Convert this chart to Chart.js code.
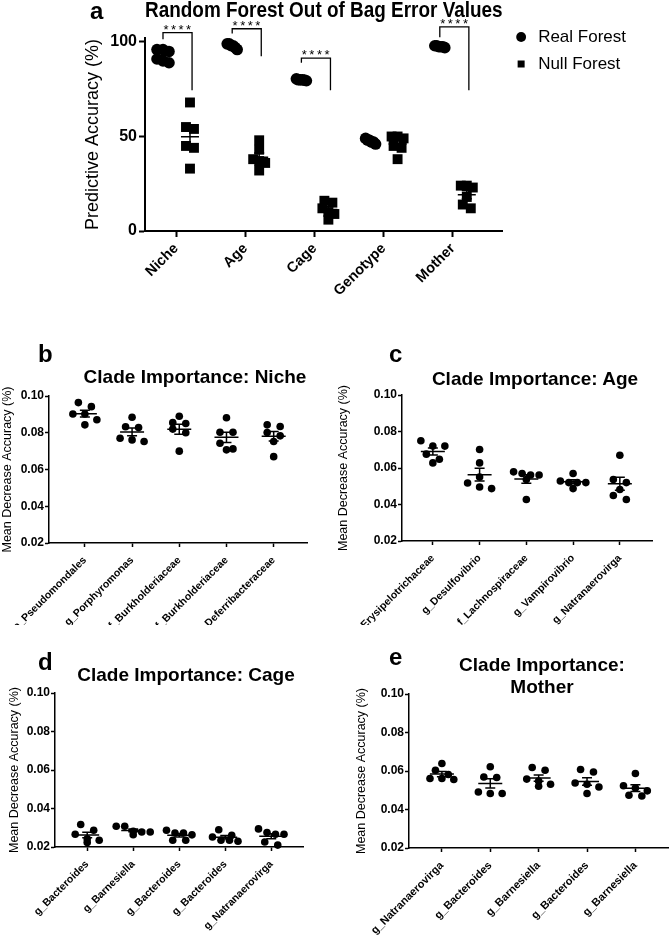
<!DOCTYPE html>
<html lang="en">
<head>
<meta charset="utf-8">
<title>Random Forest Out of Bag Error Values</title>
<script src="https://cdn.jsdelivr.net/npm/chart.js"></script>
<style>
  body { margin: 0; background: #fff; overflow: hidden; }
  #page { position: relative; width: 672px; height: 938px; font-family: "Liberation Sans", Arial, sans-serif; color: #000; }
  .panel { position: absolute; }
  .tag { position: absolute; font-size: 24px; line-height: 26px; font-weight: bold; }
  .head { position: absolute; width: 300px; text-align: center; font-size: 19px; line-height: 22px; font-weight: bold; }
</style>
</head>
<body>
<div id="page">
  <div class="panel" style="left:0;top:0;width:672px;height:305px"><canvas id="forestChart"></canvas></div>
  <div class="panel" style="left:0;top:315px;width:336px;height:310px"><canvas id="nicheChart"></canvas></div>
  <div class="panel" style="left:336px;top:315px;width:336px;height:310px"><canvas id="ageChart"></canvas></div>
  <div class="panel" style="left:0;top:640px;width:336px;height:298px"><canvas id="cageChart"></canvas></div>
  <div class="panel" style="left:336px;top:640px;width:336px;height:298px"><canvas id="motherChart"></canvas></div>

  <div class="tag" style="left:90px;top:-2px">a</div>
  <div class="tag" style="left:38px;top:341px">b</div>
  <div class="tag" style="left:389px;top:341px">c</div>
  <div class="tag" style="left:38px;top:649px">d</div>
  <div class="tag" style="left:389px;top:644px">e</div>

  <div class="head" style="left:45px;top:366px">Clade Importance: Niche</div>
  <div class="head" style="left:385px;top:368px">Clade Importance: Age</div>
  <div class="head" style="left:36px;top:664px">Clade Importance: Cage</div>
  <div class="head" style="left:392px;top:654px">Clade Importance:<br>Mother</div>
</div>

<script>
    // panel a: predictive accuracy (%) of each forest, 6 runs per variable
    var forestCats = ['Niche', 'Age', 'Cage', 'Genotype', 'Mother'];
    var realForest = [
        [96, 96, 95, 90, 89, 91],
        [99, 98, 97, 99, 96, 98],
        [80, 80, 79.5, 80.5, 80, 79.8],
        [49, 48, 47, 46, 48, 47],
        [98, 97.5, 97.5, 98, 97, 97.5]
    ];
    var nullForest = [
        [68, 55, 54, 44, 45, 33],
        [48, 43, 38, 36, 37, 32],
        [16, 15, 10, 9, 6, 12],
        [50, 50, 44, 45, 38, 49],
        [24, 24, 23, 18, 12, 14]
    ];
    // significance brackets (category index, heights in % units)
    var sigCats = [0, 1, 2, 4];
    var sigLabels = ['****', '****', '****', '****'];
    var sigTop = [105, 107, 91.5, 108];
    var sigLeftEnd = [101.5, 104.5, 89, 102.5];
    var sigRightEnd = [74.5, 92.5, 74.5, 74.5];

    // panels b-e: mean decrease accuracy per clade
    var nicheClades = ['o_Pseudomondales', 'g_Porphyromonas', 'f_Burkholderiaceae', 'f_Burkholderiaceae', 'f_Deferribacteraceae'];
    var nicheMDA = [
        [0.0964, 0.0942, 0.0902, 0.0902, 0.0871, 0.0843],
        [0.0884, 0.0833, 0.0828, 0.0770, 0.0761, 0.0752],
        [0.0890, 0.0855, 0.0850, 0.0820, 0.0800, 0.0700],
        [0.0882, 0.0803, 0.0803, 0.0743, 0.0712, 0.0707],
        [0.0843, 0.0834, 0.0801, 0.0783, 0.0752, 0.0670]
    ];
    var ageClades = ['f_Erysipelotrichaceae', 'g_Desulfovibrio', 'f_Lachnospiraceae', 'g_Vampirovibrio', 'g_Natranaerovirga'];
    var ageMDA = [
        [0.0749, 0.0720, 0.0720, 0.0676, 0.0648, 0.0628],
        [0.0701, 0.0628, 0.0551, 0.0518, 0.0496, 0.0487],
        [0.0579, 0.0570, 0.0562, 0.0562, 0.0537, 0.0427],
        [0.0570, 0.0529, 0.0520, 0.0520, 0.0520, 0.0487],
        [0.0670, 0.0537, 0.0520, 0.0482, 0.0449, 0.0427]
    ];
    var cageClades = ['g_Bacteroides', 'g_Barnesiella', 'g_Bacteroides', 'g_Bacteroides', 'g_Natranaerovirga'];
    var cageMDA = [
        [0.0317, 0.0287, 0.0266, 0.0243, 0.0235, 0.0224],
        [0.0308, 0.0308, 0.0282, 0.0278, 0.0278, 0.0264],
        [0.0287, 0.0273, 0.0273, 0.0263, 0.0235, 0.0235],
        [0.0290, 0.0261, 0.0252, 0.0235, 0.0235, 0.0230],
        [0.0294, 0.0275, 0.0266, 0.0266, 0.0226, 0.0210]
    ];
    var motherClades = ['g_Natranaerovirga', 'g_Bacteroides', 'g_Barnesiella', 'g_Bacteroides', 'g_Barnesiella'];
    var motherMDA = [
        [0.0639, 0.0604, 0.0582, 0.0561, 0.0561, 0.0556],
        [0.0622, 0.0569, 0.0566, 0.0491, 0.0483, 0.0483],
        [0.0618, 0.0604, 0.0558, 0.0548, 0.0531, 0.0521],
        [0.0608, 0.0595, 0.0538, 0.0531, 0.0517, 0.0483],
        [0.0587, 0.0523, 0.0512, 0.0497, 0.0474, 0.0470]
    ];

    Chart.defaults.font.family = '"Liberation Sans", Arial, sans-serif';
    Chart.defaults.color = '#000';

    // GraphPad-like spread: points of similar value share a row, row is centred
    function spread(vals, pxPerY, binPx, stepFor) {
        var idx = vals.map(function (v, i) { return i; }).sort(function (a, b) { return vals[b] - vals[a]; });
        var off = [];
        var k = 0;
        while (k < idx.length) {
            var row = [idx[k]];
            var j = k + 1;
            while (j < idx.length && (vals[idx[k]] - vals[idx[j]]) * pxPerY < binPx) {
                row.push(idx[j]);
                j++;
            }
            var step = stepFor(row.length);
            row.forEach(function (p, r) { off[p] = (r - (row.length - 1) / 2) * step; });
            k = j;
        }
        return off;
    }

    // mean line + SEM whiskers for every group of a dataset
    var meanSem = {
        id: 'meanSem',
        afterDatasetsDraw: function (chart, args, o) {
            var ctx = chart.ctx, xs = chart.scales.x, ys = chart.scales.y;
            ctx.save();
            ctx.strokeStyle = '#000';
            ctx.lineWidth = o.width;
            chart.data.datasets.forEach(function (ds) {
                if (!ds.groups) return;
                ds.groups.forEach(function (g, i) {
                    var n = g.length;
                    var m = g.reduce(function (a, b) { return a + b; }, 0) / n;
                    var sd = Math.sqrt(g.reduce(function (a, b) { return a + (b - m) * (b - m); }, 0) / (n - 1));
                    var sem = sd / Math.sqrt(n);
                    var cx = xs.getPixelForValue(ds.centers[i]);
                    var ym = ys.getPixelForValue(m);
                    var yh = ys.getPixelForValue(m + sem);
                    var yl = ys.getPixelForValue(m - sem);
                    ctx.beginPath();
                    ctx.moveTo(cx - o.meanHalf, ym); ctx.lineTo(cx + o.meanHalf, ym);
                    ctx.moveTo(cx, yh); ctx.lineTo(cx, yl);
                    ctx.moveTo(cx - o.capHalf, yh); ctx.lineTo(cx + o.capHalf, yh);
                    ctx.moveTo(cx - o.capHalf, yl); ctx.lineTo(cx + o.capHalf, yl);
                    ctx.stroke();
                });
            });
            ctx.restore();
        }
    };

    var sigBars = {
        id: 'sigBars',
        afterDatasetsDraw: function (chart, args, o) {
            var ctx = chart.ctx, xs = chart.scales.x, ys = chart.scales.y;
            ctx.save();
            ctx.strokeStyle = '#000';
            ctx.fillStyle = '#000';
            ctx.lineWidth = o.width;
            ctx.font = o.font;
            ctx.textAlign = 'center';
            ctx.textBaseline = 'alphabetic';
            if ('letterSpacing' in ctx) ctx.letterSpacing = o.spacing;
            sigCats.forEach(function (c, i) {
                var x1 = xs.getPixelForValue(c + o.left);
                var x2 = xs.getPixelForValue(c + o.right);
                var yt = ys.getPixelForValue(sigTop[i]);
                ctx.beginPath();
                ctx.moveTo(x1, ys.getPixelForValue(sigLeftEnd[i]));
                ctx.lineTo(x1, yt);
                ctx.lineTo(x2, yt);
                ctx.lineTo(x2, ys.getPixelForValue(sigRightEnd[i]));
                ctx.stroke();
                ctx.fillText(sigLabels[i], (x1 + x2) / 2 + 1, yt + 1);
            });
            ctx.restore();
        }
    };

    // keep rotated labels from pushing the plot area around
    function fixHeight(h) {
        return function (s) { s.height = h; s.paddingLeft = 0; s.paddingRight = 0; };
    }

    // ---- panel a ----
    var aPxPerCat = 69.2, aPxPerY = 1.89, realAt = -0.19, nullAt = 0.2;
    function forestPoints(groups, center) {
        var pts = [];
        groups.forEach(function (g, i) {
            var off = spread(g, aPxPerY, 6, function (n) { return n === 2 ? 8 : (n === 3 ? 6 : 2); });
            g.forEach(function (v, k) { pts.push({ x: i + center + off[k] / aPxPerCat, y: v }); });
        });
        return pts;
    }

    new Chart(document.getElementById('forestChart'), {
        type: 'scatter',
        data: {
            datasets: [
                {
                    label: 'Real Forest',
                    data: forestPoints(realForest, realAt),
                    groups: realForest,
                    centers: forestCats.map(function (c, i) { return i + realAt; }),
                    pointStyle: 'circle',
                    pointRadius: 5.8,
                    pointBorderWidth: 0,
                    backgroundColor: '#000',
                    borderColor: '#000',
                    clip: false
                },
                {
                    label: 'Null Forest',
                    data: forestPoints(nullForest, nullAt),
                    groups: nullForest,
                    centers: forestCats.map(function (c, i) { return i + nullAt; }),
                    pointStyle: 'rect',
                    pointRadius: 7,
                    pointBorderWidth: 0,
                    backgroundColor: '#000',
                    borderColor: '#000',
                    clip: false
                }
            ]
        },
        options: {
            responsive: true,
            maintainAspectRatio: false,
            animation: false,
            layout: { padding: { top: 0, left: 82, right: 36, bottom: 0 } },
            plugins: {
                title: {
                    display: true,
                    text: 'Random Forest Out of Bag Error Values',
                    fullSize: false,
                    color: '#000',
                    font: { size: 22, weight: 'bold' },
                    padding: { top: -2, bottom: 13.8 }
                },
                legend: {
                    position: 'right',
                    align: 'start',
                    title: { display: true, text: ' ', font: { size: 15.4 }, padding: 0 },
                    labels: {
                        usePointStyle: true,
                        boxWidth: 17,
                        boxHeight: 7,
                        padding: 10,
                        color: '#000',
                        font: { size: 17 }
                    }
                },
                tooltip: { enabled: false },
                meanSem: { meanHalf: 9, capHalf: 5, width: 1.5 },
                sigBars: { left: -0.19, right: 0.23, width: 1.3, font: '13px "Liberation Sans", Arial', spacing: '2.5px' }
            },
            scales: {
                x: {
                    type: 'linear',
                    min: -0.45,
                    max: 4.718,
                    afterFit: fixHeight(74),
                    afterBuildTicks: function (s) { s.ticks = forestCats.map(function (c, i) { return { value: i }; }); },
                    ticks: {
                        autoSkip: false,
                        minRotation: 45,
                        maxRotation: 45,
                        padding: 3,
                        font: { size: 14.5, weight: 'bold' },
                        callback: function (v) { return forestCats[v]; }
                    },
                    grid: { drawOnChartArea: false, tickLength: 6, tickWidth: 2, tickColor: '#000' },
                    border: { color: '#000', width: 2 }
                },
                y: {
                    min: 0,
                    max: 102,
                    afterFit: function (s) { s.width = 63; },
                    afterBuildTicks: function (s) { s.ticks = [{ value: 0 }, { value: 50 }, { value: 100 }]; },
                    ticks: { padding: 2, font: { size: 16, weight: 'bold' } },
                    title: { display: true, text: 'Predictive Accuracy (%)', font: { size: 18 }, padding: 0 },
                    grid: { drawOnChartArea: false, tickLength: 6, tickWidth: 2, tickColor: '#000' },
                    border: { color: '#000', width: 2 }
                }
            }
        },
        plugins: [meanSem, sigBars]
    });

    // ---- panels b-e ----
    function cladePanel(id, cats, vals, L) {
        var plotW = L.w - L.padL - L.yW - L.padR;
        var plotH = L.h - L.padT - L.xH;
        var pxX = plotW / (L.xMax - L.xMin);
        var pxY = plotH / (0.10 - 0.02);
        var pts = [];
        vals.forEach(function (g, i) {
            var off = spread(g, pxY, 6, function (n) { return n === 2 ? 13 : (n === 3 ? 12 : 8.5); });
            g.forEach(function (v, k) { pts.push({ x: i + off[k] / pxX, y: v }); });
        });
        return new Chart(document.getElementById(id), {
            type: 'scatter',
            data: {
                datasets: [{
                    label: 'Mean Decrease Accuracy',
                    data: pts,
                    groups: vals,
                    centers: cats.map(function (c, i) { return i; }),
                    pointStyle: 'circle',
                    pointRadius: 3.8,
                    pointBorderWidth: 0,
                    backgroundColor: '#000',
                    borderColor: '#000',
                    clip: false
                }]
            },
            options: {
                responsive: true,
                maintainAspectRatio: false,
                animation: false,
                layout: { padding: { top: L.padT, left: L.padL, right: L.padR, bottom: 0 } },
                plugins: {
                    legend: { display: false },
                    tooltip: { enabled: false },
                    meanSem: { meanHalf: 12, capHalf: 5, width: 1.5 }
                },
                scales: {
                    x: {
                        type: 'linear',
                        min: L.xMin,
                        max: L.xMax,
                        afterFit: fixHeight(L.xH),
                        afterBuildTicks: function (s) { s.ticks = cats.map(function (c, i) { return { value: i }; }); },
                        ticks: {
                            autoSkip: false,
                            minRotation: 45,
                            maxRotation: 45,
                            padding: 7,
                            font: { size: L.xFont, weight: 'bold' },
                            callback: function (v) { return cats[v]; }
                        },
                        grid: { drawOnChartArea: false, tickLength: 4, tickWidth: 1.5, tickColor: '#000' },
                        border: { color: '#000', width: 1.5 }
                    },
                    y: {
                        min: 0.02,
                        max: 0.10,
                        afterFit: function (s) { s.width = L.yW; },
                        ticks: {
                            stepSize: 0.02,
                            padding: 1,
                            font: { size: 12, weight: 'bold' },
                            callback: function (v) { return v.toFixed(2); }
                        },
                        title: { display: true, text: 'Mean Decrease Accuracy (%)', font: { size: 12.5 }, padding: { top: L.yTitlePad, bottom: 0 } },
                        grid: { drawOnChartArea: false, tickLength: 4, tickWidth: 1.5, tickColor: '#000' },
                        border: { color: '#000', width: 1.5 }
                    }
                }
            },
            plugins: [meanSem]
        });
    }

    cladePanel('nicheChart', nicheClades, nicheMDA,
        { w: 336, h: 310, padT: 81, padL: 0, padR: 29, yW: 49, xH: 82, xMin: -0.76, xMax: 4.706, yTitlePad: 0, xFont: 10.5 });
    cladePanel('ageChart', ageClades, ageMDA,
        { w: 336, h: 310, padT: 80, padL: 0, padR: 20, yW: 66, xH: 84, xMin: -0.66, xMax: 4.688, yTitlePad: 0, xFont: 10.5 });
    cladePanel('cageChart', cageClades, cageMDA,
        { w: 336, h: 298, padT: 53, padL: 0, padR: 33, yW: 55, xH: 91, xMin: -0.7, xMax: 4.69, yTitlePad: 7, xFont: 10.5 });
    cladePanel('motherChart', motherClades, motherMDA,
        { w: 336, h: 298, padT: 54, padL: 18, padR: 2, yW: 55, xH: 90, xMin: -0.68, xMax: 4.674, yTitlePad: 0, xFont: 11 });
</script>
</body>
</html>
